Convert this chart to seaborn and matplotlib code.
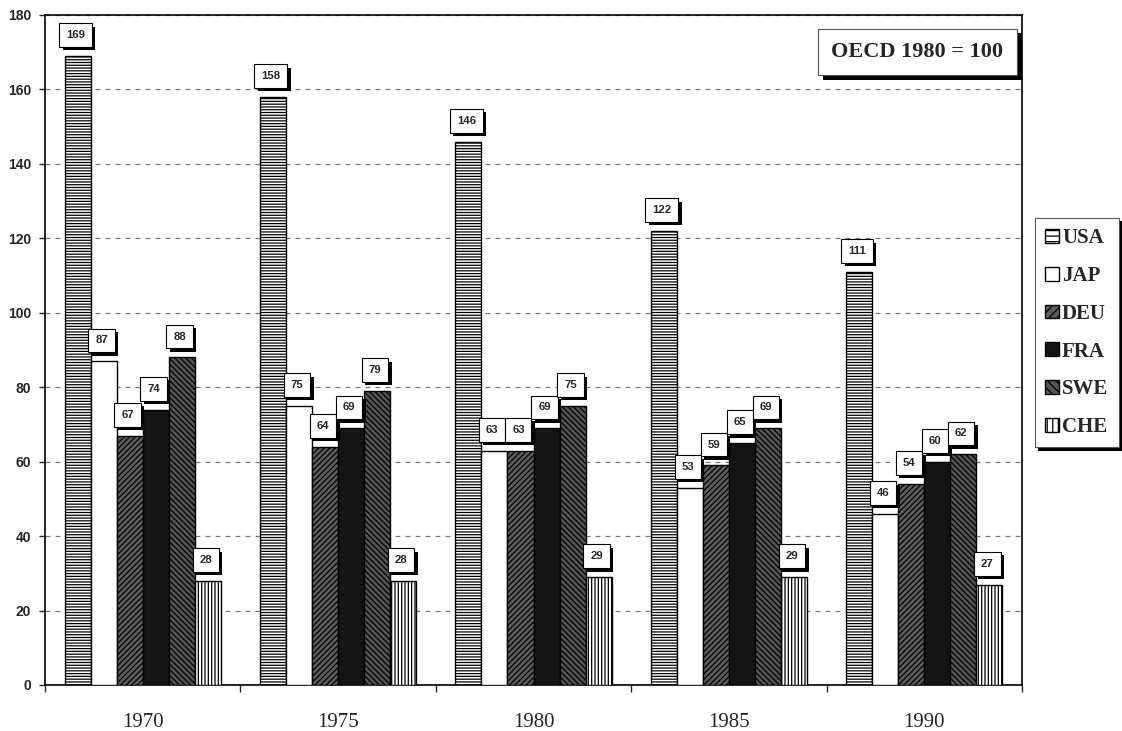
import pandas as pd
import numpy as np
import matplotlib
matplotlib.use('Agg')
import matplotlib.pyplot as plt
import matplotlib.patheffects as pe
from matplotlib.patches import Patch
import seaborn as sns

# --- data (index, OECD 1980 = 100) ---
years = ['1970', '1975', '1980', '1985', '1990']
countries = ['USA', 'JAP', 'DEU', 'FRA', 'SWE', 'CHE']
usa = [169, 158, 146, 122, 111]
jap = [87, 75, 63, 53, 46]
deu = [67, 64, 63, 59, 54]
fra = [74, 69, 69, 65, 60]
swe = [88, 79, 75, 69, 62]
che = [28, 28, 29, 29, 27]

series = {'USA': usa, 'JAP': jap, 'DEU': deu, 'FRA': fra, 'SWE': swe, 'CHE': che}
df = pd.DataFrame([(y, c, v) for c, vals in series.items() for y, v in zip(years, vals)],
                  columns=['year', 'country', 'value'])

# black & white print look
faces = {'USA': '#ffffff', 'JAP': '#ffffff', 'DEU': '#5e5e5e',
         'FRA': '#141414', 'SWE': '#555555', 'CHE': '#ffffff'}
hatches = {'USA': '------', 'JAP': '', 'DEU': '//////',
           'FRA': '', 'SWE': '\\\\\\\\\\\\', 'CHE': '|||||'}
leg_hatches = {'USA': '---', 'JAP': '', 'DEU': '////',
               'FRA': '', 'SWE': '\\\\\\\\', 'CHE': '|||'}

sns.set_style('white')
plt.rcParams['hatch.linewidth'] = 0.9
plt.rcParams['font.family'] = ['Liberation Serif', 'DejaVu Serif']

fig = plt.figure(figsize=(11.22, 7.31), dpi=100)
ax = fig.add_axes([45 / 1122, 1 - 685 / 731, 977 / 1122, 670 / 731])

sns.barplot(data=df, x='year', y='value', hue='country', order=years,
            hue_order=countries, palette=faces, width=0.8, ax=ax,
            edgecolor='black', linewidth=1.0, legend=False, zorder=3)

for cont, c in zip(ax.containers, countries):
    for bar in cont:
        bar.set_facecolor(faces[c])
        bar.set_hatch(hatches[c])
        bar.set_edgecolor('black')
    # value boxes with hard black shadow
    for bar, v in zip(cont, series[c]):
        t = ax.annotate(str(v), (bar.get_x() + bar.get_width() / 2, bar.get_height()),
                        xytext=(-1.5, 15), textcoords='offset points',
                        ha='center', va='center', fontsize=8.2, fontweight='bold',
                        family='Liberation Sans', zorder=6,
                        bbox=dict(boxstyle='square,pad=0.6', fc='white', ec='black', lw=0.8))
        t.get_bbox_patch().set_path_effects([
            pe.withSimplePatchShadow(offset=(2.5, -2.5), shadow_rgbFace='black', alpha=1.0)])

ax.set_ylim(0, 180)
ax.set_xlim(-0.5, 4.5)
ax.set_yticks(np.arange(0, 181, 20))
ax.set_yticklabels([str(v) for v in range(0, 181, 20)], family='Liberation Sans',
                   fontweight='bold', fontsize=10)
ax.yaxis.grid(True, color='#7a7a7a', linestyle=(0, (4, 4)), linewidth=0.9, zorder=0)
ax.set_axisbelow(True)
ax.tick_params(axis='y', direction='out', length=4, width=1, left=True, pad=6)
ax.tick_params(axis='x', which='major', length=0, pad=20, labelsize=15)
ax.set_xticks(np.arange(-0.5, 5, 1), minor=True)
ax.tick_params(axis='x', which='minor', direction='out', length=5, width=1, bottom=True)
ax.set_xlabel('')
ax.set_ylabel('')
for s in ax.spines.values():
    s.set_visible(True)
    s.set_color('black')
    s.set_linewidth(1.2)

# index note
note = ax.text(0.893, 0.945, 'OECD 1980 = 100', transform=ax.transAxes, ha='center', va='center',
               fontsize=16, fontweight='bold', zorder=7,
               bbox=dict(boxstyle='square,pad=0.6', fc='white', ec='#555555', lw=0.8))
note.get_bbox_patch().set_path_effects([
    pe.withSimplePatchShadow(offset=(3.5, -3.5), shadow_rgbFace='black', alpha=1.0)])

# legend outside on the right
handles = [Patch(facecolor=faces[c], edgecolor='black', hatch=leg_hatches[c], label=c)
           for c in countries]
leg = fig.legend(handles=handles, loc='upper left', bbox_to_anchor=(1035 / 1122, 1 - 218 / 731),
                 prop={'family': 'Liberation Serif', 'weight': 'bold', 'size': 15},
                 handlelength=0.65, handleheight=0.65, handletextpad=0.15, labelspacing=0.85,
                 borderpad=0.5, borderaxespad=0, fancybox=False, frameon=True,
                 shadow={'color': 'black', 'alpha': 1.0})
leg.get_frame().set_edgecolor('#555555')
leg.get_frame().set_linewidth(0.8)

fig.savefig('out.png', dpi=100)
